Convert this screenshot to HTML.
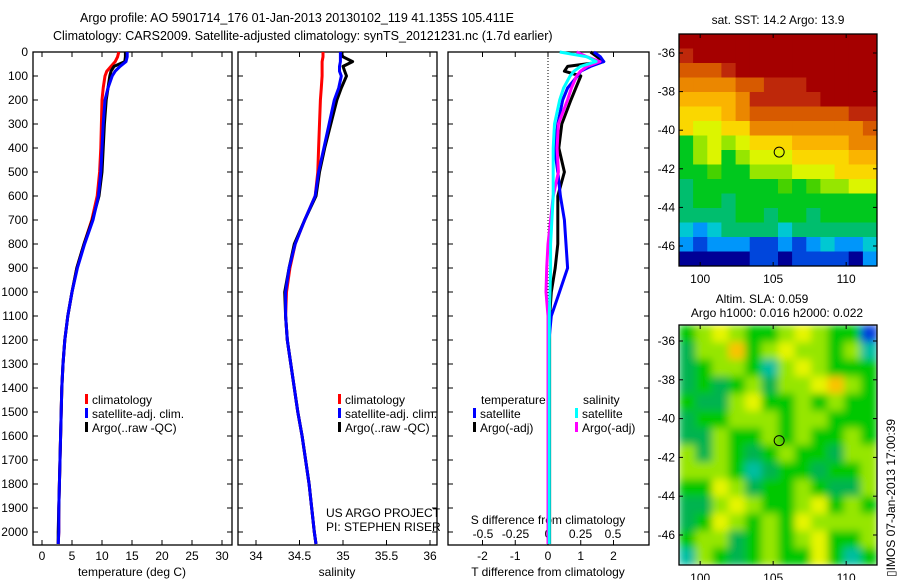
<!DOCTYPE html>
<html><head><meta charset="utf-8">
<style>
body{margin:0;background:#fff;}
svg{display:block;font-family:"Liberation Sans",sans-serif;font-size:12px;}
</style></head>
<body>
<svg id="c" width="900" height="580" viewBox="0 0 900 580" xmlns="http://www.w3.org/2000/svg">
<defs>
<clipPath id="m1c"><rect x="679" y="34" width="198" height="232"/></clipPath>
<clipPath id="m2c"><rect x="679" y="325" width="198" height="240"/></clipPath>
<filter id="bl" x="0" y="0" width="1" height="1"><feGaussianBlur stdDeviation="4"/></filter>
</defs>
<text x="80" y="22" style="font-size:12.5px">Argo profile: AO 5901714_176 01-Jan-2013 20130102_119 41.135S 105.411E</text>
<text x="53" y="40" style="font-size:12.5px">Climatology: CARS2009. Satellite-adjusted climatology: synTS_20121231.nc (1.7d earlier)</text>
<g id="g"></g>
</svg>
<script>
// ---- data ----
const depths=[0,20,40,60,80,100,150,200,300,400,500,600,700,800,900,1000,1100,1200,1300,1400,1500,1600,1700,1800,1900,2000,2050];
const tempClim=[12.8,12.6,12.2,11.5,10.8,10.5,10.2,10.0,9.9,9.8,9.6,9.2,8.3,7.0,5.8,5.0,4.3,3.8,3.5,3.3,3.2,3.1,3.0,2.9,2.8,2.8,2.7];
const tempSat=[14.2,14.2,14.0,13.0,12.2,11.7,11.0,10.5,10.2,10.0,9.8,9.4,8.5,7.1,5.9,5.0,4.3,3.8,3.5,3.3,3.2,3.1,3.0,2.9,2.8,2.8,2.7];
const tempArgo=[13.9,13.9,13.8,12.0,11.5,11.3,11.0,10.7,10.4,10.2,10.0,9.5,8.4,7.0,5.8,5.0,4.3,3.8,3.5,3.3,3.2,3.1,3.0,2.9,2.8,2.7,2.7];
const salClim=[34.77,34.77,34.76,34.76,34.76,34.76,34.75,34.74,34.73,34.72,34.71,34.68,34.56,34.45,34.39,34.35,34.34,34.36,34.40,34.44,34.48,34.53,34.57,34.61,34.64,34.67,34.69];
const salSat=[34.97,34.97,34.97,34.96,34.96,34.98,34.95,34.90,34.84,34.78,34.72,34.68,34.56,34.45,34.38,34.34,34.34,34.36,34.40,34.44,34.48,34.53,34.57,34.61,34.64,34.67,34.69];
const salArgo=[34.97,35.0,35.11,35.0,35.02,35.04,34.98,34.93,34.86,34.79,34.73,34.69,34.56,34.44,34.38,34.33,34.34,34.36,34.40,34.44,34.48,34.53,34.57,34.61,34.64,34.67,34.69];
const tdiffSat=[1.4,1.6,1.7,1.3,1.0,0.9,0.6,0.45,0.3,0.2,0.3,0.38,0.5,0.55,0.6,0.35,0.1,0.03,0.03,0.03,0.03,0.03,0.03,0.03,0.03,0.03,0.03];
const tdiffArgo=[1.3,1.5,1.7,0.6,0.5,1.0,0.85,0.7,0.42,0.33,0.5,0.3,0.3,0.3,0.22,0.1,0.05,0.05,0.05,0.05,0.05,0.05,0.05,0.05,0.05,0.05,0.05];
const sdiffSat=[0.09,0.3,0.37,0.25,0.2,0.17,0.12,0.09,0.05,0.04,0.04,0.04,0.03,0.02,0.02,0.015,0.01,0.01,0.01,0.01,0.01,0.01,0.01,0.01,0.01,0.01,0.01];
const sdiffArgo=[0.22,0.3,0.4,0.3,0.25,0.22,0.18,0.15,0.08,0.07,0.08,0.04,0.02,0,-0.01,-0.015,0,0,0,0,0,0,0,0,0,0,0];
const tempTicks=[0,5,10,15,20,25,30];
const salTicks=[34,34.5,35,35.5,36];
const tdTicks=[-2,-1,0,1,2];
const sdTicks=[-0.5,-0.25,0,0.25,0.5];
const sdTickLabels=["-0.5","-0.25","0","0.25","0.5"];
const depthTicks=[0,100,200,300,400,500,600,700,800,900,1000,1100,1200,1300,1400,1500,1600,1700,1800,1900,2000];
const latTicks=[-36,-38,-40,-42,-44,-46];
const lonTicks=[100,105,110];
const sst=[
[16,16,16,16,16,16,16,16,16,16,16,16,16,16],
[15,16,16,16,16,16,16,16,16,16,16,16,16,16],
[14.5,14.5,14.5,15,16,15.5,16,16,16,16,16,16,16,16],
[14,14,14,14,14.5,14.5,15,15,15,16,16,16,16,16],
[13.5,13.5,13.5,13.5,14,15,15,15,15,15,15.5,16,16,16],
[13,13,13,13.5,14,14.5,14.5,14.5,14.5,14.5,14.5,14.5,15,15],
[13,12.5,12.5,13,13,14,14,14,14,14,14,14,14,14.5],
[11,12,12.5,12,12.5,13,13,13,13.5,13.5,13.5,13.5,14,14],
[11,12,12.5,11,12,12.5,12.5,12.5,13,13,13,13,13.5,13.5],
[11,11,11.5,11,11,12,12,12,12.5,12.5,12.5,13,13,13],
[10.5,11,11,11,11,11,11,11.5,11,11.5,12,12,12.5,12.5],
[10.5,11,11,10.5,11,11,11,11,11,11,11,11,11,11],
[10.5,10.5,10.5,10.5,11,11,10.5,11,11,10.5,11,11,11,11],
[10,9.5,10,10.5,10.5,10.5,10.5,10,10.5,10.5,10.5,10.5,10.5,10.5],
[9.5,9,9.5,9.5,9.5,9,9,9.5,9,9.5,10,9.5,9.5,10],
[8.5,8.5,8.5,8.5,8.5,9,9,8.5,9,9,9,9,8.5,9.5]];
const sla=[
[0,1,2,1,0,0,1,2,1,0,0,-3],
[-1,1,1,3,0,1,2,1,1,0,1,-2],
[-1,0,1,1,0,-2,1,2,1,0,0,0],
[-1,0,-1,0,1,-1,1,1,2,3,1,0],
[0,-1,-1,1,2,0,0,1,0,1,0,0],
[-1,0,0,1,1,1,0,1,1,0,0,0],
[-1,-1,1,0,0,1,0,1,0,0,1,0],
[1,-1,1,0,-1,0,1,0,0,-1,1,1],
[1,1,1,0,-2,-1,0,0,-1,0,0,1],
[0,0,2,1,-1,0,0,1,0,-1,-1,1],
[-1,-1,1,2,1,0,0,1,2,0,1,0],
[-1,0,2,1,0,1,0,2,1,1,1,1],
[0,1,1,-1,0,1,0,1,2,0,0,1],
[-2,1,0,-1,0,1,0,0,2,0,-2,0]];
const argoPos=[105.411,-41.135];
// ---- helpers ----
const NS="http://www.w3.org/2000/svg";const G=document.getElementById('g');
function mk(t,a,p){const e=document.createElementNS(NS,t);for(const k in a)e.setAttribute(k,a[k]);(p||G).appendChild(e);return e;}
const top0=52,bot=545;
const yD=d=>top0+d*0.24;
const P=[{x0:33,x1:232},{x0:238,x1:437},{x0:448,x1:649}];
const xT=v=>42+6*v, xS=v=>256+87*(v-34), xTd=v=>548+32.75*v, xSd=v=>548+130*v;
P.forEach((p,i)=>{
 let r=mk('rect',{x:p.x0,y:top0,width:p.x1-p.x0,height:bot-top0,fill:'none',stroke:'#000','stroke-width':1.3});
 
 
 depthTicks.forEach(d=>{mk('line',{x1:p.x0,x2:p.x0+5,y1:yD(d),y2:yD(d),stroke:'#000'});mk('line',{x1:p.x1,x2:p.x1-5,y1:yD(d),y2:yD(d),stroke:'#000'});});
});
depthTicks.forEach(d=>{let t=mk('text',{x:28,y:yD(d)+4,'text-anchor':'end'});t.textContent=d;
 
 });
function xticks(arr,fx,p,labels,y){arr.forEach((v,i)=>{const x=fx(v);mk('line',{x1:x,x2:x,y1:bot,y2:bot-5,stroke:'#000'});mk('line',{x1:x,x2:x,y1:top0,y2:top0+5,stroke:'#000'});
 let t=mk('text',{x:x,y:y,'text-anchor':'middle'});t.textContent=labels?labels[i]:v;
 
 });}
xticks(tempTicks,xT,P[0],null,560);xticks(salTicks,xS,P[1],null,560);xticks(tdTicks,xTd,P[2],null,560);
sdTicks.forEach((v,i)=>{let t=mk('text',{x:xSd(v),y:538,'text-anchor':'middle'});t.textContent=sdTickLabels[i];
 
 });
function lbl(s,x,y,name,anchor){let t=mk('text',{x:x,y:y,'text-anchor':anchor||'middle'});t.textContent=s;
 
 return t;}
lbl('temperature (deg C)',132,576,'x-axis-title-temperature');
lbl('salinity',337,576,'x-axis-title-salinity');
lbl('T difference from climatology',548,576,'x-axis-title-t-diff');
lbl('S difference from climatology',548,524,'x-axis-title-s-diff');
lbl('US ARGO PROJECT',326,517,'project-label','start');
lbl('PI: STEPHEN RISER',326,531,'pi-label','start');
mk('line',{x1:548,x2:548,y1:top0,y2:bot,stroke:'#000','stroke-dasharray':'1,2'});
function line(vals,fx,col,name){const pts=vals.map((v,i)=>fx(v).toFixed(1)+','+yD(depths[i]).toFixed(1)).join(' ');
 const e=mk('polyline',{points:pts,fill:'none',stroke:col,'stroke-width':3,'stroke-linejoin':'round'});
 
 }
line(tempClim,xT,'#f00','temp-climatology');line(tempArgo,xT,'#000','temp-argo');line(tempSat,xT,'#00f','temp-satellite');
line(salClim,xS,'#f00','sal-climatology');line(salArgo,xS,'#000','sal-argo');line(salSat,xS,'#00f','sal-satellite');
line(tdiffArgo,xTd,'#000','tdiff-argo');line(tdiffSat,xTd,'#00f','tdiff-satellite');
line(sdiffArgo,xSd,'#f0f','sdiff-argo');line(sdiffSat,xSd,'#0ff','sdiff-satellite');
function leg(x,y,col,s,name){mk('rect',{x:x,y:y-10,width:3,height:10,fill:col});lbl(s,x+7,y,name,'start');}
leg(85,404,'#f00','climatology','legend-climatology');leg(85,418,'#00f','satellite-adj. clim.','legend-satellite');leg(85,432,'#000','Argo(..raw -QC)','legend-argo');
leg(338,404,'#f00','climatology','legend2-climatology');leg(338,418,'#00f','satellite-adj. clim.','legend2-satellite');leg(338,432,'#000','Argo(..raw -QC)','legend2-argo');
lbl('temperature',481,404,'legend-temperature-heading','start');lbl('salinity',583,404,'legend-salinity-heading','start');
leg(473,418,'#00f','satellite','legend-t-satellite');leg(473,432,'#000','Argo(-adj)','legend-t-argo');
leg(575,418,'#0ff','satellite','legend-s-satellite');leg(575,432,'#f0f','Argo(-adj)','legend-s-argo');
// ---- maps ----
const mx0=679,mx1=877,lon0=98.55,lonS=14.6;
const xL=v=>mx0+(v-lon0)*lonS;
const sstPal=[[15.5,'rgb(165,0,0)'],[15,'rgb(190,40,10)'],[14.5,'rgb(215,90,0)'],[14,'rgb(235,135,0)'],[13.5,'rgb(250,180,0)'],[13,'rgb(250,215,0)'],[12.5,'rgb(220,245,0)'],[12,'rgb(150,230,0)'],[11.5,'rgb(70,210,0)'],[11,'rgb(0,200,30)'],[10.5,'rgb(0,190,110)'],[10,'rgb(0,200,210)'],[9.5,'rgb(0,150,250)'],[9,'rgb(0,70,220)'],[-99,'rgb(0,0,150)']];
const sstCol=v=>sstPal.find(p=>v>=p[0])[1];
function mapGrid(grid,y0,y1,col,clip,name,blur){const g=mk('g',{'clip-path':'url(#'+clip+')'});const g2=mk('g',blur?{filter:'url(#bl)'}:{},g);
 const R=grid.length,C=grid[0].length,cw=(mx1-mx0)/C,ch=(y1-y0)/R;
 grid.forEach((row,r)=>row.forEach((v,c)=>{const e=mk('rect',{x:(mx0+c*cw).toFixed(1),y:(y0+r*ch).toFixed(1),width:(cw+0.6).toFixed(1),height:(ch+0.6).toFixed(1),fill:col(v)},g2);
  
  }));
 const f=mk('rect',{x:mx0,y:y0,width:mx1-mx0,height:y1-y0,fill:'none',stroke:'#000','stroke-width':1.3});
 
 }
const slaCol=v=>({'-3':'rgb(0,60,220)','-2':'rgb(0,190,160)','-1':'rgb(0,180,80)','0':'rgb(0,200,0)','1':'rgb(150,230,0)','2':'rgb(230,245,0)','3':'rgb(250,195,0)'})[v];
mapGrid(sst,34,266,sstCol,'m1c','sst-map',false);
mapGrid(sla,325,565,slaCol,'m2c','sla-map',true);
function mapAxes(y0,y1,latY,name){latTicks.forEach(la=>{const y=latY(la);mk('line',{x1:mx0,x2:mx0+4,y1:y,y2:y,stroke:'#000'});mk('line',{x1:mx1,x2:mx1-4,y1:y,y2:y,stroke:'#000'});
 lbl(String(la),675,y+4,name+'-lat-label','end');});
 lonTicks.forEach(lo=>{const x=xL(lo);mk('line',{x1:x,x2:x,y1:y1,y2:y1-4,stroke:'#000'});mk('line',{x1:x,x2:x,y1:y0,y2:y0+4,stroke:'#000'});
 lbl(String(lo),x,y1+17,name+'-lon-label');});
 const c=mk('circle',{cx:xL(argoPos[0]),cy:latY(argoPos[1]),r:5,fill:'none',stroke:'#000'});
 
 }
mapAxes(34,266,la=>53+(-36-la)*19.3,'sst-map');
mapAxes(325,565,la=>341+(-36-la)*19.4,'sla-map');
lbl('sat. SST: 14.2 Argo: 13.9',778,24,'sst-map-title');
lbl('Altim. SLA: 0.059',762,303,'sla-map-title-1');
lbl('Argo h1000: 0.016 h2000: 0.022',777,317,'sla-map-title-2');
const im=lbl('\u25AFIMOS 07-Jan-2013 17:00:39',0,0,'imos-timestamp','start');
im.setAttribute('transform','translate(895,577) rotate(-90)');
</script>
</body></html>
